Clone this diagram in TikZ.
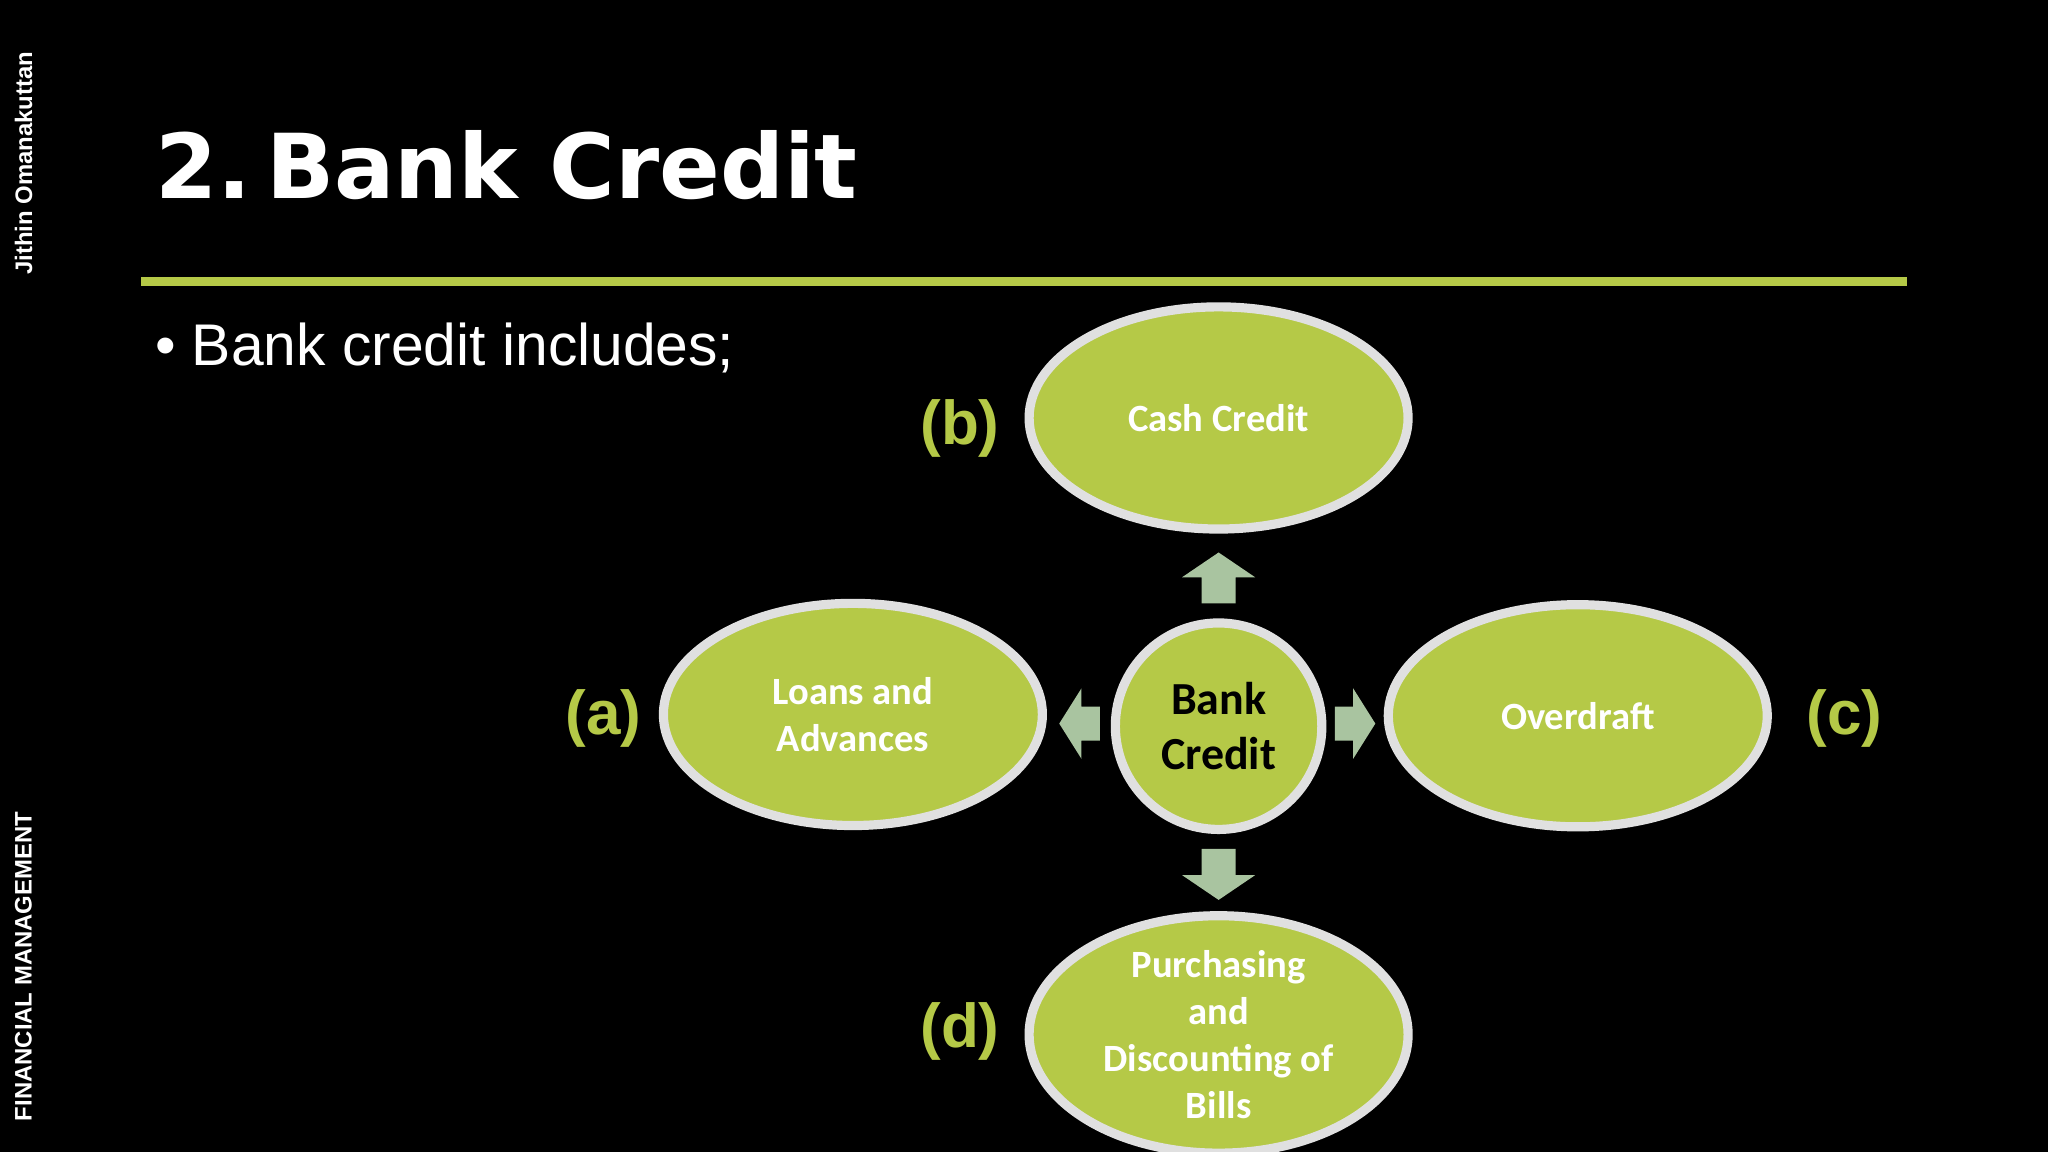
\documentclass[tikz,border=0pt]{standalone}
\usepackage{fontspec}
\usetikzlibrary{shapes.geometric}
\setmainfont{Carlito}
\newfontfamily\titlefont{DejaVu Sans}
\newfontfamily\bodyfont{Liberation Sans}
\definecolor{lg}{HTML}{B5C947}
\definecolor{rim}{HTML}{E0E0E0}
\definecolor{arr}{HTML}{A9C4A0}
\begin{document}
\begin{tikzpicture}[x=0.01cm,y=-0.01cm,
  oval/.style={ellipse,fill=lg,draw=rim,line width=2pt,minimum width=2.9cm,minimum height=1.7cm,inner sep=0pt,text=white,font=\bfseries\fontsize{8.4}{10.2}\selectfont,align=center},
  lab/.style={text=lg,font=\bodyfont\bfseries\fontsize{13.5}{14}\selectfont},
  ar/.style={fill=arr}]
\useasboundingbox (0,0) rectangle (1568,882);
\fill[black] (0,0) rectangle (1568,882);
\node[rotate=90,text=white,font=\bodyfont\bfseries\fontsize{5.2}{6}\selectfont] (auth) at (18,125) {Jithin Omanakuttan};
\node[rotate=90,text=white,font=\bodyfont\bfseries\fontsize{5.2}{6}\selectfont] (fm) at (18,740) {FINANCIAL MANAGEMENT};
\node[anchor=base west,text=white,font=\titlefont\bfseries\fontsize{19.5}{22}\selectfont,inner sep=0] (title) at (118,152) {2.\,Bank Credit};
\fill[lg] (108,212) rectangle (1460,219);
\node[anchor=base west,text=white,font=\bodyfont\fontsize{12.8}{14}\selectfont,inner sep=0] (bul) at (118,280) {\textbullet{} Bank credit includes;};
% arrows
\fill[ar] (920,462) -- (920,442) -- (905,442) -- (933,423) -- (961,442) -- (946,442) -- (946,462) -- cycle;
\fill[ar] (920,650) -- (920,670) -- (905,670) -- (933,689) -- (961,670) -- (946,670) -- (946,650) -- cycle;
\fill[ar] (842,541) -- (828,541) -- (828,527) -- (811,554) -- (828,581) -- (828,567) -- (842,567) -- cycle;
\fill[ar] (1022,541) -- (1036,541) -- (1036,527) -- (1053,554) -- (1036,581) -- (1036,567) -- (1022,567) -- cycle;
% nodes
\node[oval] (cc) at (933,320) {Cash Credit};
\node[oval] (la) at (653,547) {Loans and\\Advances};
\node[oval] (od) at (1208,548) {Overdraft};
\node[oval,font=\bfseries\fontsize{8.4}{10.2}\selectfont] (pd) at (933,792) {Purchasing\\and\\Discounting of\\Bills};
\node[oval,minimum width=1.58cm,minimum height=1.58cm,text=black,font=\bfseries\fontsize{10}{12}\selectfont] (bc) at (933,556) {Bank\\Credit};
\node[lab] (lb) at (735,328) {(b)};
\node[lab] (lA) at (462,550) {(a)};
\node[lab] (lc) at (1412,550) {(c)};
\node[lab] (ld) at (735,790) {(d)};
\end{tikzpicture}
\end{document}
